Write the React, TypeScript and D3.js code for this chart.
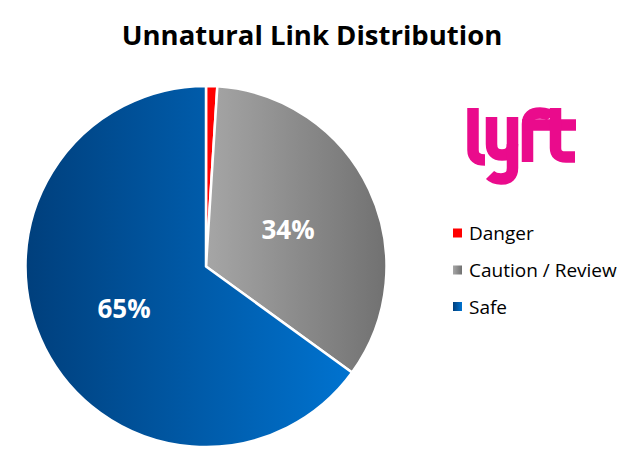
import React from "react";
import * as d3 from "d3";

const categories = ["Danger", "Caution / Review", "Safe"];
const values = [1, 34, 65];
const labels = ["", "34%", "65%"];
const title = "Unnatural Link Distribution";

const W = 622;
const H = 467;
const cx = 206;
const cy = 266.5;
const R = 180.5;

const gradients = [
  { id: "gDanger", from: "#ff0000", to: "#ff0000" },
  { id: "gCaution", from: "#a6a6a6", to: "#717171" },
  { id: "gSafe", from: "#003f7c", to: "#0073d0" },
];

export default function App() {
  const pie = d3.pie<number>().sort(null).value((d) => d);
  const arcs = pie(values);
  const arc = d3.arc<d3.PieArcDatum<number>>().innerRadius(0).outerRadius(R);
  const labelPos = [null, [288, 239], [124, 318]];
  const legendY = [233, 270, 306.5];
  const font = "'Open Sans', sans-serif";

  return (
    <svg width={W} height={H} style={{ position: "absolute", left: 0, top: 0, background: "#fff" }}>
      <defs>
        {gradients.map((g) => (
          <linearGradient key={g.id} id={g.id} x1="0" y1="0" x2="1" y2="0">
            <stop offset="0%" stopColor={g.from} />
            <stop offset="100%" stopColor={g.to} />
          </linearGradient>
        ))}
      </defs>
      <rect x={0} y={0} width={W} height={H} fill="#fff" />
      <text x={312} y={45} textAnchor="middle" fontFamily={font} fontWeight={700} fontSize={27.5} fill="#000">
        {title}
      </text>
      <g transform={`translate(${cx},${cy})`}>
        {arcs.map((a, i) => (
          <path key={i} d={arc(a) || ""} fill={`url(#${gradients[i].id})`} stroke="#fff" strokeWidth={2.5} strokeLinejoin="round" />
        ))}
      </g>
      {arcs.map((a, i) =>
        labels[i] ? (
          <text key={i} x={labelPos[i]![0]} y={labelPos[i]![1]} textAnchor="middle" fontFamily={font} fontWeight={700} fontSize={26} fill="#fff">
            {labels[i]}
          </text>
        ) : null
      )}
      {categories.map((c, i) => (
        <g key={c}>
          <rect x={453} y={legendY[i] - 4.5} width={9} height={9} fill={`url(#${gradients[i].id})`} />
          <text x={469} y={legendY[i] + 7} fontFamily={font} fontSize={19} fill="#000">
            {c}
          </text>
        </g>
      ))}
      <g fill="none" stroke="#ea0b8c" strokeWidth={11.5}>
        <path d="M473,108 V150 Q473,160 485,160" />
        <path d="M491.5,117 V144 Q491.5,155 502,155 Q512.5,155 512.5,144" />
        <path d="M512.5,117 V168 Q512.5,179 501,179 Q494,179 490,175" />
        <path d="M527.5,162 V124 Q527.5,113 540,113 Q548,113 551,117" />
        <path d="M522,125 H576" />
        <path d="M555.5,108 V148 Q555.5,157 566,157 H575" />
      </g>
    </svg>
  );
}
